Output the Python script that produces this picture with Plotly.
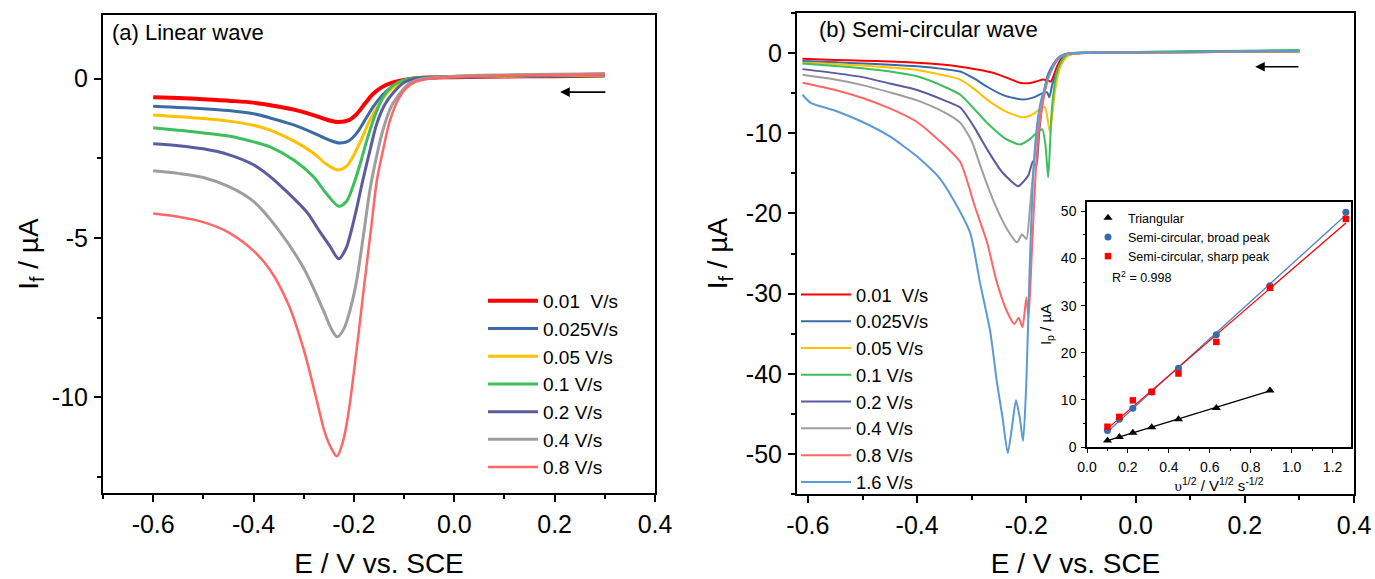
import numpy as np
import plotly.graph_objects as go

FONT = "Arial, 'Liberation Sans', sans-serif"
W, H = 1375, 579

# ---------------- Panel (a): linear wave ----------------
a_labels = ["0.01\u00a0 V/s", "0.025V/s", "0.05 V/s", "0.1 V/s", "0.2 V/s", "0.4 V/s", "0.8 V/s"]
a_colors = ["#FF0000", "#3A6BA8", "#FFC000", "#3CBF5C", "#5B5BA0", "#9E9E9E", "#FF6666"]
a_widths = [4, 3, 3, 3, 3, 3, 2.5]

a_x001 = [-0.6, -0.5, -0.45, -0.4, -0.367, -0.32, -0.281, -0.255, -0.232, -0.21, -0.194, -0.178, -0.162, -0.145, -0.125, -0.1, -0.07, 0.0, 0.1, 0.2, 0.3]
a_y001 = [-0.58, -0.64, -0.69, -0.75, -0.83, -0.97, -1.14, -1.28, -1.36, -1.3, -1.1, -0.78, -0.48, -0.27, -0.13, -0.04, 0.02, 0.05, 0.07, 0.08, 0.1]

a_x0025 = [-0.6, -0.5, -0.45, -0.4, -0.367, -0.32, -0.281, -0.25, -0.228, -0.21, -0.194, -0.178, -0.162, -0.145, -0.128, -0.11, -0.09, -0.06, 0.0, 0.1, 0.2, 0.3]
a_y0025 = [-0.86, -0.94, -1.0, -1.1, -1.23, -1.45, -1.7, -1.92, -2.02, -1.95, -1.7, -1.3, -0.89, -0.55, -0.3, -0.13, -0.04, 0.02, 0.05, 0.07, 0.08, 0.1]

a_x005 = [-0.6, -0.5, -0.45, -0.4, -0.367, -0.32, -0.281, -0.255, -0.232, -0.215, -0.202, -0.185, -0.168, -0.15, -0.134, -0.115, -0.095, -0.07, 0.0, 0.1, 0.2, 0.3]
a_y005 = [-1.14, -1.25, -1.33, -1.46, -1.61, -1.95, -2.33, -2.68, -2.86, -2.75, -2.45, -1.9, -1.29, -0.8, -0.45, -0.2, -0.06, 0.02, 0.06, 0.08, 0.1, 0.12]

a_x01 = [-0.6, -0.5, -0.45, -0.4, -0.367, -0.32, -0.281, -0.255, -0.23, -0.215, -0.202, -0.188, -0.174, -0.158, -0.142, -0.125, -0.105, -0.08, 0.0, 0.1, 0.2, 0.3]
a_y01 = [-1.54, -1.7, -1.8, -1.98, -2.14, -2.55, -3.07, -3.6, -4.0, -3.85, -3.38, -2.7, -1.92, -1.15, -0.58, -0.25, -0.07, 0.02, 0.07, 0.1, 0.12, 0.15]

a_x02 = [-0.6, -0.55, -0.5, -0.45, -0.4, -0.367, -0.33, -0.293, -0.27, -0.248, -0.23, -0.215, -0.208, -0.195, -0.182, -0.168, -0.154, -0.138, -0.122, -0.1, -0.08, 0.0, 0.1, 0.2, 0.3]
a_y02 = [-2.04, -2.1, -2.2, -2.38, -2.7, -3.07, -3.6, -4.2, -4.75, -5.25, -5.65, -5.3, -4.94, -4.1, -3.17, -2.25, -1.39, -0.8, -0.45, -0.12, 0.0, 0.07, 0.1, 0.12, 0.14]

a_x04 = [-0.6, -0.55, -0.5, -0.45, -0.4, -0.35, -0.3, -0.26, -0.245, -0.233, -0.22, -0.205, -0.194, -0.18, -0.168, -0.155, -0.142, -0.125, -0.108, -0.09, -0.07, 0.0, 0.1, 0.2, 0.3]
a_y04 = [-2.89, -2.97, -3.1, -3.38, -3.85, -4.75, -5.95, -7.3, -7.85, -8.1, -7.85, -7.1, -6.28, -4.8, -3.48, -2.45, -1.6, -0.85, -0.45, -0.15, -0.02, 0.08, 0.12, 0.14, 0.16]

a_x08 = [-0.6, -0.55, -0.5, -0.45, -0.4, -0.367, -0.33, -0.3, -0.277, -0.258, -0.245, -0.234, -0.222, -0.21, -0.2, -0.19, -0.178, -0.165, -0.154, -0.14, -0.128, -0.11, -0.094, -0.075, -0.05, 0.0, 0.1, 0.2, 0.3]
a_y08 = [-4.23, -4.33, -4.5, -4.82, -5.4, -6.0, -7.1, -8.5, -9.9, -11.1, -11.6, -11.85, -11.4, -10.4, -9.2, -7.9, -6.28, -4.6, -3.17, -2.1, -1.3, -0.6, -0.27, -0.08, 0.0, 0.06, 0.1, 0.12, 0.14]

a_xs = [a_x001, a_x0025, a_x005, a_x01, a_x02, a_x04, a_x08]
a_ys = [a_y001, a_y0025, a_y005, a_y01, a_y02, a_y04, a_y08]

a_xtick_vals = [-0.6, -0.4, -0.2, 0.0, 0.2, 0.4]
a_xtick_text = ["-0.6", "-0.4", "-0.2", "0.0", "0.2", "0.4"]
a_ytick_vals = [0, -5, -10]
a_ytick_text = ["0", "-5", "-10"]

# ---------------- Panel (b): semi-circular wave ----------------
b_labels = ["0.01\u00a0 V/s", "0.025V/s", "0.05 V/s", "0.1 V/s", "0.2 V/s", "0.4 V/s", "0.8 V/s", "1.6 V/s"]
b_colors = ["#FF0000", "#3A6BA8", "#FFC000", "#3CBF5C", "#5B5BA0", "#9E9E9E", "#FF6666", "#5B9BD5"]

b_x001 = [-0.61, -0.55, -0.5, -0.45, -0.4, -0.35, -0.321, -0.29, -0.261, -0.235, -0.212, -0.195, -0.18, -0.169, -0.16, -0.155, -0.15, -0.144, -0.138, -0.133, -0.12, -0.107, -0.09, 0.0, 0.1, 0.2, 0.3]
b_y001 = [-0.7, -0.85, -0.95, -1.05, -1.2, -1.45, -1.7, -2.05, -2.45, -3.1, -3.7, -3.75, -3.5, -3.3, -3.45, -3.55, -2.8, -1.7, -0.9, -0.4, -0.15, -0.05, 0.0, 0.05, 0.1, 0.15, 0.2]

b_x0025 = [-0.61, -0.55, -0.5, -0.45, -0.4, -0.35, -0.321, -0.295, -0.272, -0.24, -0.206, -0.185, -0.17, -0.162, -0.158, -0.152, -0.144, -0.135, -0.126, -0.115, -0.1, 0.0, 0.1, 0.2, 0.3]
b_y0025 = [-1.0, -1.15, -1.3, -1.45, -1.65, -2.0, -2.3, -3.2, -4.2, -5.3, -5.8, -5.5, -5.0, -4.9, -5.5, -3.8, -2.4, -1.2, -0.4, -0.1, 0.0, 0.05, 0.1, 0.15, 0.2]

b_x005 = [-0.61, -0.55, -0.5, -0.45, -0.4, -0.35, -0.321, -0.295, -0.272, -0.24, -0.208, -0.19, -0.175, -0.166, -0.157, -0.147, -0.138, -0.128, -0.12, -0.1, 0.0, 0.1, 0.2, 0.3]
b_y005 = [-1.2, -1.35, -1.55, -1.8, -2.1, -2.8, -3.3, -4.5, -5.8, -7.2, -8.0, -7.7, -7.0, -6.7, -9.8, -4.5, -1.7, -0.6, -0.2, 0.0, 0.05, 0.1, 0.15, 0.2]

b_x01 = [-0.61, -0.55, -0.5, -0.45, -0.4, -0.35, -0.321, -0.295, -0.272, -0.24, -0.212, -0.195, -0.182, -0.171, -0.165, -0.16, -0.153, -0.144, -0.135, -0.126, -0.11, 0.0, 0.1, 0.2, 0.3]
b_y01 = [-1.3, -1.6, -1.9, -2.3, -2.9, -4.2, -5.2, -7.0, -8.7, -10.6, -11.4, -10.8, -10.0, -9.5, -11.5, -15.5, -6.7, -2.4, -0.9, -0.2, 0.05, 0.15, 0.25, 0.3, 0.4]

b_x02 = [-0.61, -0.55, -0.5, -0.45, -0.4, -0.35, -0.321, -0.295, -0.272, -0.245, -0.215, -0.205, -0.196, -0.188, -0.182, -0.176, -0.168, -0.16, -0.15, -0.14, -0.13, -0.115, 0.0, 0.1, 0.2, 0.3]
b_y02 = [-2.0, -2.5, -3.0, -3.8, -4.6, -5.9, -6.8, -9.3, -12.0, -14.8, -16.6, -16.0, -15.2, -13.5, -14.2, -9.5, -5.0, -2.6, -1.3, -0.5, -0.15, 0.0, 0.1, 0.15, 0.2, 0.25]

b_x04 = [-0.61, -0.55, -0.5, -0.45, -0.4, -0.35, -0.321, -0.3, -0.283, -0.261, -0.235, -0.217, -0.208, -0.2, -0.193, -0.185, -0.178, -0.17, -0.16, -0.15, -0.14, -0.125, -0.11, 0.0, 0.1, 0.2, 0.3]
b_y04 = [-2.7, -3.3, -4.0, -4.9, -5.9, -7.4, -8.7, -11.0, -14.3, -18.3, -22.0, -23.6, -22.6, -23.2, -19.0, -13.0, -9.0, -6.0, -3.2, -1.6, -0.6, -0.1, 0.0, 0.1, 0.15, 0.2, 0.25]

b_x08 = [-0.61, -0.55, -0.5, -0.45, -0.4, -0.35, -0.321, -0.294, -0.272, -0.254, -0.235, -0.222, -0.214, -0.207, -0.2, -0.196, -0.19, -0.183, -0.176, -0.168, -0.16, -0.15, -0.14, -0.125, -0.11, 0.0, 0.1, 0.2, 0.3]
b_y08 = [-3.7, -4.6, -5.6, -6.9, -8.6, -11.5, -13.6, -19.2, -23.6, -28.6, -32.3, -33.8, -33.0, -34.2, -30.5, -33.0, -25.0, -15.0, -9.0, -5.5, -3.0, -1.5, -0.6, -0.1, 0.0, 0.1, 0.15, 0.2, 0.25]

b_x16 = [-0.61, -0.595, -0.55, -0.5, -0.45, -0.4, -0.36, -0.336, -0.303, -0.285, -0.266, -0.254, -0.244, -0.234, -0.226, -0.219, -0.212, -0.206, -0.2, -0.194, -0.188, -0.182, -0.175, -0.165, -0.155, -0.14, -0.125, -0.11, 0.0, 0.1, 0.2, 0.3]
b_y16 = [-5.2, -6.2, -7.2, -8.6, -10.4, -12.9, -15.5, -18.0, -22.4, -28.6, -34.8, -41.0, -45.3, -49.9, -46.5, -43.3, -45.5, -48.4, -41.0, -27.0, -16.0, -10.0, -6.5, -4.0, -2.2, -0.6, -0.1, 0.0, 0.1, 0.15, 0.2, 0.25]

b_xs = [b_x001, b_x0025, b_x005, b_x01, b_x02, b_x04, b_x08, b_x16]
b_ys = [b_y001, b_y0025, b_y005, b_y01, b_y02, b_y04, b_y08, b_y16]

b_xtick_vals = [-0.6, -0.4, -0.2, 0.0, 0.2, 0.4]
b_xtick_text = ["-0.6", "-0.4", "-0.2", "0.0", "0.2", "0.4"]
b_ytick_vals = [0, -10, -20, -30, -40, -50]
b_ytick_text = ["0", "-10", "-20", "-30", "-40", "-50"]

# ---------------- Inset: peak current vs sqrt(scan rate) ----------------
ins_x_tri = [0.1, 0.158, 0.224, 0.316, 0.447, 0.632, 0.894]
ins_y_tri = [1.4, 2.1, 3.0, 4.2, 5.9, 8.3, 12.0]
ins_x_semi = [0.1, 0.158, 0.224, 0.316, 0.447, 0.632, 0.894, 1.265]
ins_y_broad = [3.5, 5.9, 8.2, 11.7, 16.7, 23.8, 34.2, 49.8]
ins_y_sharp = [4.3, 6.4, 9.9, 11.7, 15.6, 22.3, 33.8, 48.4]
ins_xtick_vals = [0.0, 0.2, 0.4, 0.6, 0.8, 1.0, 1.2]
ins_ytick_vals = [0, 10, 20, 30, 40, 50]

fig = go.Figure()

for i in range(len(a_xs)):
    fig.add_trace(go.Scatter(
        x=a_xs[i], y=a_ys[i], mode="lines", name=a_labels[i],
        line=dict(color=a_colors[i], width=a_widths[i], shape="spline", smoothing=0.9),
        xaxis="x", yaxis="y", legend="legend"))

for i in range(len(b_xs)):
    fig.add_trace(go.Scatter(
        x=b_xs[i], y=b_ys[i], mode="lines", name=b_labels[i],
        line=dict(color=b_colors[i], width=2, shape="spline", smoothing=0.6),
        xaxis="x2", yaxis="y2", legend="legend2"))


def fit_line(xs, ys):
    p = np.polyfit(xs, ys, 1)
    xx = np.array([min(xs), max(xs)])
    return xx, np.polyval(p, xx)


fx, fy = fit_line(ins_x_tri, ins_y_tri)
fig.add_trace(go.Scatter(x=fx, y=fy, mode="lines", line=dict(color="black", width=1.3),
                         xaxis="x3", yaxis="y3", showlegend=False, hoverinfo="skip"))
fx, fy = fit_line(ins_x_semi, ins_y_broad)
fig.add_trace(go.Scatter(x=fx, y=fy, mode="lines", line=dict(color="#4F81BD", width=1.3),
                         xaxis="x3", yaxis="y3", showlegend=False, hoverinfo="skip"))
fx, fy = fit_line(ins_x_semi, ins_y_sharp)
fig.add_trace(go.Scatter(x=fx, y=fy, mode="lines", line=dict(color="#FF0000", width=1.3),
                         xaxis="x3", yaxis="y3", showlegend=False, hoverinfo="skip"))

fig.add_trace(go.Scatter(x=ins_x_tri, y=ins_y_tri, mode="markers", name="Triangular",
                         marker=dict(symbol="triangle-up", color="black", size=8),
                         xaxis="x3", yaxis="y3", legend="legend3"))
fig.add_trace(go.Scatter(x=ins_x_semi, y=ins_y_broad, mode="markers", name="Semi-circular, broad peak",
                         marker=dict(symbol="circle", color="#3A6BA8", size=7),
                         xaxis="x3", yaxis="y3", legend="legend3"))
fig.add_trace(go.Scatter(x=ins_x_semi, y=ins_y_sharp, mode="markers", name="Semi-circular, sharp peak",
                         marker=dict(symbol="square", color="#FF0000", size=6.5),
                         xaxis="x3", yaxis="y3", legend="legend3"))


def px_x(p):
    return p / W


def px_y(p):
    return 1 - p / H


axis_common = dict(showline=True, linecolor="black", linewidth=2, mirror=True,
                   ticks="outside", ticklen=7, tickwidth=2, tickcolor="black",
                   showgrid=False, zeroline=False, automargin=False,
                   tickmode="array", ticklabelstandoff=1,
                   tickfont=dict(family=FONT, size=25, color="black"))
inset_common = dict(showline=True, linecolor="black", linewidth=1.5, mirror=True,
                    ticks="outside", ticklen=4, tickwidth=1.2, tickcolor="black",
                    showgrid=False, zeroline=False, automargin=False,
                    tickmode="array", ticklabelstandoff=2,
                    tickfont=dict(family=FONT, size=14, color="black"))
TITLE_FONT = dict(family=FONT, size=28, color="black")

fig.update_layout(
    template="none",
    width=W, height=H,
    margin=dict(l=0, r=0, t=0, b=0, autoexpand=False),
    paper_bgcolor="white", plot_bgcolor="rgba(0,0,0,0)",
    font=dict(family=FONT, color="black"),
    xaxis=dict(axis_common, domain=[px_x(103), px_x(655)], range=[-0.7, 0.4],
               tickvals=a_xtick_vals, ticktext=a_xtick_text,
               minor=dict(tickmode="linear", dtick=0.1, tick0=-0.7, ticklen=4, tickwidth=2,
                          tickcolor="black", ticks="outside"),
               title=dict(text="E / V vs. SCE", font=TITLE_FONT, standoff=17),
               anchor="y"),
    yaxis=dict(axis_common, domain=[px_y(493), px_y(15)], range=[-13, 2],
               tickvals=a_ytick_vals, ticktext=a_ytick_text,
               minor=dict(tickmode="linear", dtick=2.5, tick0=0, ticklen=4, tickwidth=2,
                          tickcolor="black", ticks="outside"),
               title=dict(text="I<sub>f</sub> / µA", font=TITLE_FONT, standoff=5),
               anchor="x"),
    xaxis2=dict(axis_common, domain=[px_x(797), px_x(1354)], range=[-0.62, 0.4],
                tickvals=b_xtick_vals, ticktext=b_xtick_text,
                minor=dict(tickmode="linear", dtick=0.1, tick0=-0.6, ticklen=4, tickwidth=2,
                           tickcolor="black", ticks="outside"),
                title=dict(text="E / V vs. SCE", font=TITLE_FONT, standoff=17),
                anchor="y2"),
    yaxis2=dict(axis_common, domain=[px_y(494), px_y(13)], range=[-55, 5],
                tickvals=b_ytick_vals, ticktext=b_ytick_text,
                minor=dict(tickmode="linear", dtick=5, tick0=0, ticklen=4, tickwidth=2,
                           tickcolor="black", ticks="outside"),
                title=dict(text="I<sub>f</sub> / µA", font=TITLE_FONT, standoff=10),
                anchor="x2"),
    xaxis3=dict(inset_common, domain=[px_x(1087), px_x(1351)], range=[0, 1.29],
                tickvals=ins_xtick_vals, ticktext=[f"{v:.1f}" for v in ins_xtick_vals],
                minor=dict(tickmode="linear", dtick=0.1, tick0=0, ticklen=2.5, tickwidth=1.2,
                           tickcolor="black", ticks="outside"),
                title=dict(text="<span style='font-family:Liberation Serif,serif'>υ</span><sup>1/2</sup> / V<sup>1/2</sup> s<sup>-1/2</sup>",
                           font=dict(family=FONT, size=15, color="black"), standoff=5),
                anchor="y3"),
    yaxis3=dict(inset_common, domain=[px_y(447), px_y(202)], range=[0, 52],
                tickvals=ins_ytick_vals, ticktext=[str(v) for v in ins_ytick_vals],
                minor=dict(tickmode="linear", dtick=5, tick0=0, ticklen=2.5, tickwidth=1.2,
                           tickcolor="black", ticks="outside"),
                title=dict(text="I<sub>p</sub> / µA", font=dict(family=FONT, size=15, color="black"), standoff=6),
                anchor="x3"),
    legend=dict(x=px_x(483), y=px_y(282), xanchor="left", yanchor="top",
                bgcolor="rgba(0,0,0,0)", borderwidth=0, itemwidth=50,
                font=dict(family=FONT, size=19, color="black"), tracegroupgap=0),
    legend2=dict(x=px_x(796), y=px_y(276), xanchor="left", yanchor="top",
                 bgcolor="rgba(0,0,0,0)", borderwidth=0, itemwidth=50,
                 font=dict(family=FONT, size=18.3, color="black"), tracegroupgap=0),
    legend3=dict(x=px_x(1088), y=px_y(203), xanchor="left", yanchor="top",
                 bgcolor="rgba(0,0,0,0)", borderwidth=0, itemwidth=30,
                 font=dict(family=FONT, size=12.5, color="black"), tracegroupgap=0),
    showlegend=True,
)

annotations = [
    dict(text="(a) Linear wave", xref="paper", yref="paper", x=px_x(110), y=px_y(32),
         xanchor="left", yanchor="middle", showarrow=False, font=dict(family=FONT, size=22, color="black")),
    dict(text="(b) Semi-circular wave", xref="paper", yref="paper", x=px_x(817), y=px_y(30),
         xanchor="left", yanchor="middle", showarrow=False, font=dict(family=FONT, size=22, color="black")),
    dict(text="R<sup>2</sup> = 0.998", xref="x3", yref="y3", x=0.11, y=36,
         xanchor="left", yanchor="middle", showarrow=False, font=dict(family=FONT, size=12.5, color="black")),
    dict(text="", x=0.211, y=-0.42, xref="x", yref="y", ax=0.304, ay=-0.42, axref="x", ayref="y",
         showarrow=True, arrowhead=2, arrowsize=1.2, arrowwidth=1.6, arrowcolor="black"),
    dict(text="", x=0.219, y=-1.7, xref="x2", yref="y2", ax=0.301, ay=-1.7, axref="x2", ayref="y2",
         showarrow=True, arrowhead=2, arrowsize=1.2, arrowwidth=1.6, arrowcolor="black"),
]
fig.update_layout(annotations=annotations)

fig.write_html("out.html")
